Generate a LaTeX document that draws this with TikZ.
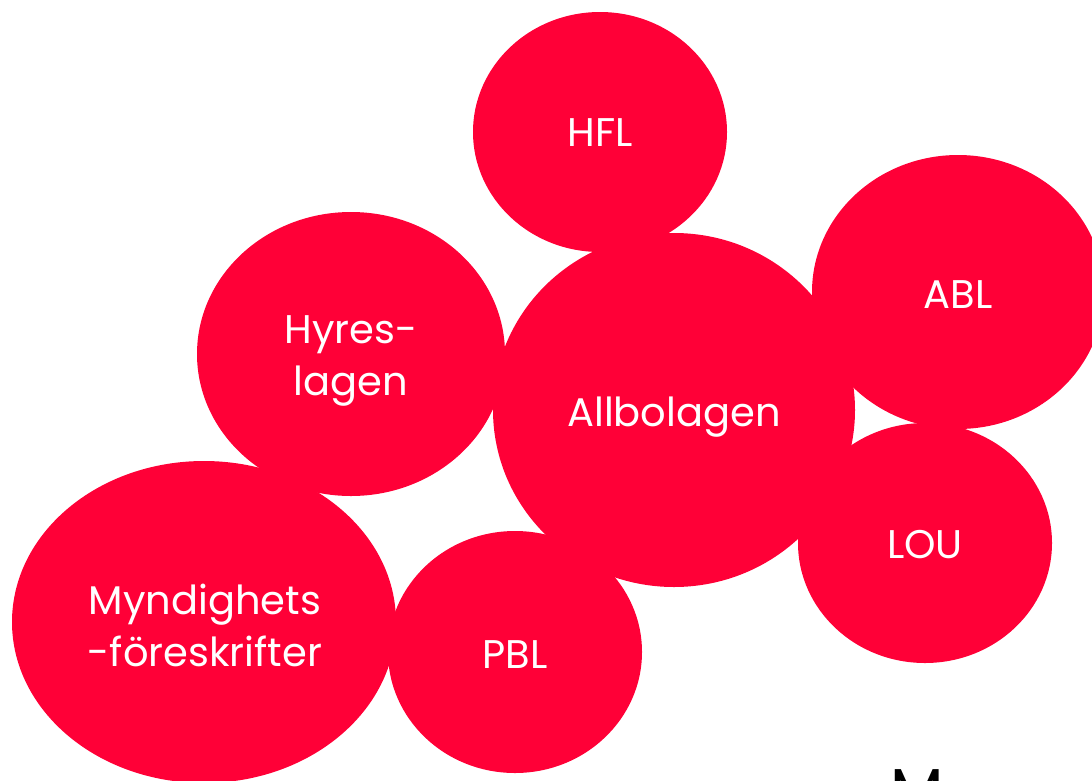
\documentclass[tikz,border=0pt]{standalone}
\usepackage{fontspec}
\setmainfont{Poppins}
\usetikzlibrary{shapes.geometric}
\definecolor{lawred}{HTML}{FF0037}
\begin{document}
\begin{tikzpicture}[x=1pt,y=-1pt,
        law/.style={ellipse,fill=lawred,inner sep=0pt},
        lawtext/.style={text=white,align=center,inner sep=0pt,
            font=\fontsize{40}{52}\selectfont}]
        %% Frame
        \useasboundingbox (0,0) rectangle (1092,780);
        %% Laws
        \node[law,minimum width=254,minimum height=240] (hfl)   at (600,132) {};
        \node[law,minimum width=292,minimum height=274] (abl)   at (958,292) {};
        \node[law,minimum width=308,minimum height=284] (hyres) at (351,354) {};
        \node[law,minimum width=362,minimum height=354] (allbo) at (674,410) {};
        \node[law,minimum width=254,minimum height=240] (lou)   at (925,543) {};
        \node[law,minimum width=384,minimum height=322] (myndf) at (204,622) {};
        \node[law,minimum width=254,minimum height=242] (pbl)   at (515,652) {};
        %% Labels
        \node[lawtext] (hfltext)   at (600,133) {HFL};
        \node[lawtext] (abltext)   at (958,295) {ABL};
        \node[lawtext] (hyrestext) at (351,361) {Hyres-\\lagen};
        \node[lawtext] (allbotext) at (674,417) {Allbolagen};
        \node[lawtext] (loutext)   at (925,545) {LOU};
        \node[lawtext] (myndftext) at (205,625) {Myndighets\\-föreskrifter};
        \node[lawtext] (pbltext)   at (515,655) {PBL};
        %% Cut-off title
        \node[anchor=base west,inner sep=0pt,font=\fontsize{62}{62}\selectfont] (mtitle) at (890,812) {M};
    \end{tikzpicture}
\end{document}
